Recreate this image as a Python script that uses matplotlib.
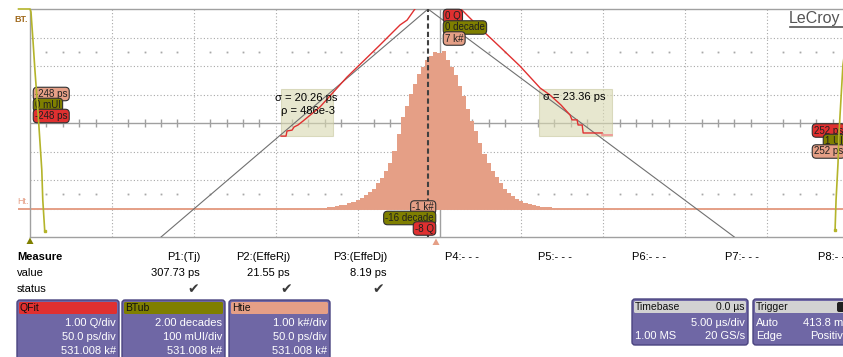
import numpy as np
import matplotlib.pyplot as plt
import matplotlib.transforms as mtransforms
from matplotlib.patches import FancyBboxPatch, Rectangle, Polygon

plt.rcParams['font.family'] = ['Liberation Sans', 'DejaVu Sans']

# screen scales
ps_per_div = 50
htie_range = (-1, 7)      # k#, 1.00 k#/div
btub_range = (-16, 0)     # decade, 2.00 decades/div
qfit_range = (-8, 0)      # Q, 1.00 Q/div

# TIE histogram (Htie)
tie_bin_ps = 2.5
tie_ps = np.arange(-72.5, 72.6, tie_bin_ps)
tie_kcount = [0.02, 0.03, 0.04, 0.06, 0.08, 0.11, 0.14, 0.19, 0.23, 0.30,
              0.36, 0.46, 0.58, 0.70, 0.88, 1.06, 1.30, 1.60, 2.02, 2.60,
              3.20, 3.58, 4.02, 4.38, 4.73, 4.98, 5.20, 5.34, 5.50, 5.44,
              5.52, 5.22, 4.95, 4.68, 4.30, 3.95, 3.50, 3.08, 2.72, 2.30,
              1.92, 1.58, 1.32, 1.10, 0.90, 0.70, 0.56, 0.44, 0.34, 0.27,
              0.20, 0.16, 0.12, 0.09, 0.07, 0.05, 0.04, 0.03, 0.02]

# bathtub curve (BTub)
btub_left_ps = [-257, -250, -249.4, -248.2, -247, -245.2, -244, -242.8, -242.2, -241]
btub_left_dec = [0, 0, -0.21, -2.18, -4.28, -7.09, -9.19, -11.3, -13.4, -15.58]
btub_right_ps = [252, 248, 246.3, 243.9, 243.3, 242.1, 241.5]
btub_right_dec = [0, -2.5, -3.93, -8.7, -10.8, -13.4, -15.5]

# Q-scale of the tails (QFit) and the fitted lines
qfit_left_ps = [-96.8, -93.7, -93.1, -90.0, -88.8, -86.4, -83.3, -73.0, -56.5, -36.3, -24.1, -19.8, -15.0]
qfit_left_q = [-4.46, -4.46, -4.28, -4.25, -4.14, -4.07, -3.93, -3.44, -2.39, -1.26, -0.56, -0.39, 0.0]
qfit_right_ps = [13.1, 24.7, 36.9, 49.1, 61.4, 67.5, 74.2, 79.7, 80.9, 84.0, 84.6, 87.1, 87.7, 99.3]
qfit_right_q = [0, -0.67, -1.33, -2.0, -2.77, -3.02, -3.37, -3.72, -3.89, -3.89, -4.07, -4.07, -4.35, -4.35]
fit_left_ps = [-170, -7]
fit_left_q = [-8, 0]
fit_right_ps = [-7, 180]
fit_right_q = [0, -8]
fit_window_left = (-96.8, -65.0)
fit_window_right = (60.7, 105.3)
fit_window_q = (-4.46, -2.81)
mean_ps = -7.0

sigma_left, rho_left, sigma_right = 20.26, 486e-3, 23.36

# measurement table
param_names = ['P1:(Tj)', 'P2:(EffeRj)', 'P3:(EffeDj)']
param_values = ['307.73 ps', '21.55 ps', '8.19 ps']
empty_params = ['P4:- - -', 'P5:- - -', 'P6:- - -', 'P7:- - -', 'P8:- - -']

salmon = '#E59F86'
red = '#E03030'
olive = '#7F7F00'
tub_line = '#B4B42A'
purple = '#6F67A5'
grid_col = '#A8A8A8'

W, H = 843, 357
fig = plt.figure(figsize=(W / 100, H / 100), dpi=100)
# pixel coordinates measured from the top-left corner
pix = mtransforms.Affine2D().scale(1 / W, -1 / H).translate(0, 1) + fig.transFigure

ax = fig.add_axes([30 / W, (H - 237) / H, 819 / W, 228 / H])
ax.set_xlim(-5 * ps_per_div, 5 * ps_per_div)
ax.set_ylim(*htie_range)
ax.set_xticks([])
ax.set_yticks([])
for s in ax.spines.values():
    s.set_color('#A0A0A0')
    s.set_linewidth(1)


def dec_to_y(d):
    return htie_range[1] + np.asarray(d) / 2.0


def q_to_y(q):
    return htie_range[1] + np.asarray(q)


# grid
for gx in np.arange(-200, 201, 50):
    if gx != 0:
        ax.axvline(gx, color=grid_col, lw=0.8, ls=(0, (1, 2)), zorder=0)
for gy in range(0, 7):
    if gy != 3:
        ax.axhline(gy, color=grid_col, lw=0.8, ls=(0, (1, 2)), zorder=0)
ax.axhline(3, color='#A0A0A0', lw=1, zorder=0)
ax.axvline(0, color='#A0A0A0', lw=1, zorder=0)
minor_x = [v for v in np.arange(-240, 241, 10) if v % 50 != 0]
ax.vlines(minor_x, 3 - 0.14, 3 + 0.14, color='#A0A0A0', lw=1, zorder=0)
for ry in (0.5, 5.5):
    ax.plot(minor_x, [ry] * len(minor_x), ls='none', marker='s', ms=1.3,
            color=grid_col, mew=0, zorder=0)

# Htie histogram and its baseline
ax.axhline(0, color=salmon, lw=1.4, zorder=2)
ax.plot([-257, -250], [0, 0], color=salmon, lw=1.4, clip_on=False, zorder=2)
edges = np.append(tie_ps - tie_bin_ps / 2, tie_ps[-1] + tie_bin_ps / 2)
ax.stairs(tie_kcount, edges, fill=True, color=salmon, lw=0, zorder=2)

# fit windows
for x0, x1 in (fit_window_left, fit_window_right):
    ax.add_patch(Rectangle((x0, q_to_y(fit_window_q[0])), x1 - x0,
                           fit_window_q[1] - fit_window_q[0],
                           fc='#D8D8B0', ec='#C8C8A0', lw=0.8, alpha=0.6, zorder=1))

# Q fit lines and measured Q-scale
ax.plot(fit_left_ps, q_to_y(fit_left_q), color='#707070', lw=0.8, zorder=3)
ax.plot(fit_right_ps, q_to_y(fit_right_q), color='#707070', lw=0.8, zorder=3)
ax.plot(qfit_left_ps, q_to_y(qfit_left_q), color=red, lw=1, zorder=3)
ax.plot(qfit_right_ps, q_to_y(qfit_right_q), color=red, lw=1, zorder=3)
ax.plot([qfit_right_ps[-1], 105.3], q_to_y([-4.42, -4.42]), color='#F09090', lw=1.2, zorder=3)

# mean marker
ax.axvline(mean_ps, color='#404040', lw=1.5, ls=(0, (2.5, 1.5)), zorder=4)

# bathtub
ax.plot(btub_left_ps, dec_to_y(btub_left_dec), color=tub_line, lw=1.2, clip_on=False, zorder=6)
ax.plot(btub_left_ps[-1], dec_to_y(btub_left_dec[-1]), 's', ms=2, color=tub_line, zorder=6)
ax.plot(btub_right_ps, dec_to_y(btub_right_dec), color=tub_line, lw=1.2, zorder=6)
ax.plot(btub_right_ps[-1], dec_to_y(btub_right_dec[-1]), 's', ms=2, color=tub_line, zorder=6)

# fit annotations
ax.text(306, 98, f'σ = {sigma_left:.2f} ps', transform=pix, ha='center', va='center',
        fontsize=8, zorder=5)
ax.text(308, 111, f'ρ = {rho_left * 1000:.0f}e-3', transform=pix, ha='center', va='center',
        fontsize=8, zorder=5)
ax.text(574, 97.5, f'σ = {sigma_right:.2f} ps', transform=pix, ha='center', va='center',
        fontsize=8, zorder=5)


def tag(x, y, s, fc, ha='left'):
    ax.text(x, y, s, transform=pix, ha=ha, va='center', fontsize=7, color='#202020',
            zorder=5, clip_on=False,
            bbox=dict(boxstyle='round,pad=0.18,rounding_size=0.4', fc=fc, ec='#303030', lw=0.8))


# scale tags at top and bottom of the grid
tag(445, 16, f'{qfit_range[1]} Q', red)
tag(445, 27.5, f'{btub_range[1]} decade', olive)
tag(445, 38.5, f'{htie_range[1]} k#', salmon)
tag(434, 207.5, f'{htie_range[0]} k#', salmon, ha='right')
tag(434, 218, f'{btub_range[0]} decade', olive, ha='right')
tag(434, 228.5, f'{qfit_range[0]} Q', red, ha='right')

# cursor tags
tag(35, 94, '-248 ps', salmon)
tag(35, 105, '0 mUI', olive)
tag(35, 116, '-248 ps', red)
tag(814, 130.5, '252 ps', red)
tag(825, 141, '1 UI', olive)
tag(814, 151.5, '252 ps', salmon)

fig.text(14, 20, 'BT.', transform=pix, fontsize=6.5, fontweight='bold', color='#A06A1E', va='center')
fig.text(17, 201, 'Ht.', transform=pix, fontsize=6.5, color=salmon, va='center')

fig.text(789, 18.5, 'LeCroy', transform=pix, fontsize=11.5, color='#555555', va='center')
fig.add_artist(plt.Line2D([790, 843], [27, 27], transform=pix, color='#555555', lw=1.2))

# trace markers under the grid
fig.add_artist(Polygon([[26.5, 244], [33.5, 244], [30, 237.5]], closed=True,
                       transform=pix, fc=olive, ec='none'))
fig.add_artist(Polygon([[432.5, 245], [439.5, 245], [436, 238.5]], closed=True,
                       transform=pix, fc=salmon, ec='none'))

# measurement table
fig.text(17, 257, 'Measure', transform=pix, fontsize=8, fontweight='bold', va='center')
fig.text(17, 273, 'value', transform=pix, fontsize=8, va='center')
fig.text(17, 289, 'status', transform=pix, fontsize=8, va='center')
for xr, xc, name, val in zip([200, 290, 387], [193, 286, 378], param_names, param_values):
    fig.text(xr, 257, name, transform=pix, fontsize=8, ha='right', va='center')
    fig.text(xr, 273, val, transform=pix, fontsize=8, ha='right', va='center')
    fig.text(xc, 289, '✔', transform=pix, fontsize=10, ha='center', va='center', color='#3A3A3A')
for xl, name in zip([445, 538, 632, 725, 818], empty_params):
    fig.text(xl, 257, name, transform=pix, fontsize=8, va='center')


def channel_box(x0, x1, y0, y1, head_fc, title, rows, title_right=''):
    fig.add_artist(FancyBboxPatch((x0, y0), x1 - x0, y1 - y0,
                                  boxstyle='round,pad=0,rounding_size=3', transform=pix,
                                  fc=purple, ec='#4A4480', lw=1))
    fig.add_artist(FancyBboxPatch((x0 + 2, y0 + 2), x1 - x0 - 4, 12,
                                  boxstyle='round,pad=0,rounding_size=1.5', transform=pix,
                                  fc=head_fc, ec='none'))
    fig.text(x0 + 3, y0 + 8, title, transform=pix, fontsize=7.5, va='center', color='#101010')
    if title_right:
        fig.text(x1 - 3, y0 + 8, title_right, transform=pix, fontsize=7.5, va='center',
                 ha='right', color='#101010')
    for i, (left, right) in enumerate(rows):
        yy = y0 + 23.5 + 13.5 * i
        if left:
            fig.text(x0 + 3, yy, left, transform=pix, fontsize=8, va='center', color='white')
        fig.text(x1 - 3, yy, right, transform=pix, fontsize=8, va='center', ha='right',
                 color='white')


channel_box(17, 119, 300, 364, red, 'QFit',
            [('', '1.00 Q/div'), ('', '50.0 ps/div'), ('', '531.008 k#')])
channel_box(122, 225, 300, 364, olive, 'BTub',
            [('', '2.00 decades'), ('', '100 mUI/div'), ('', '531.008 k#')])
channel_box(229, 330, 300, 364, salmon, 'Htie',
            [('', '1.00 k#/div'), ('', '50.0 ps/div'), ('', '531.008 k#')])
channel_box(632, 748, 299, 345, '#D2D2D2', 'Timebase',
            [('', '5.00 µs/div'), ('1.00 MS', '20 GS/s')], title_right='0.0 µs')
channel_box(753, 880, 299, 345, '#D2D2D2', 'Trigger',
            [('Auto', ''), ('Edge', '')])
fig.text(851, 322.5, '413.8 mV', transform=pix, fontsize=8, va='center', ha='right', color='white')
fig.text(849, 336, 'Positive', transform=pix, fontsize=8, va='center', ha='right', color='white')
fig.add_artist(FancyBboxPatch((837, 302), 10, 10, boxstyle='round,pad=0,rounding_size=2',
                              transform=pix, fc='#202020', ec='none'))

fig.savefig('out.png', dpi=100, facecolor='white')
